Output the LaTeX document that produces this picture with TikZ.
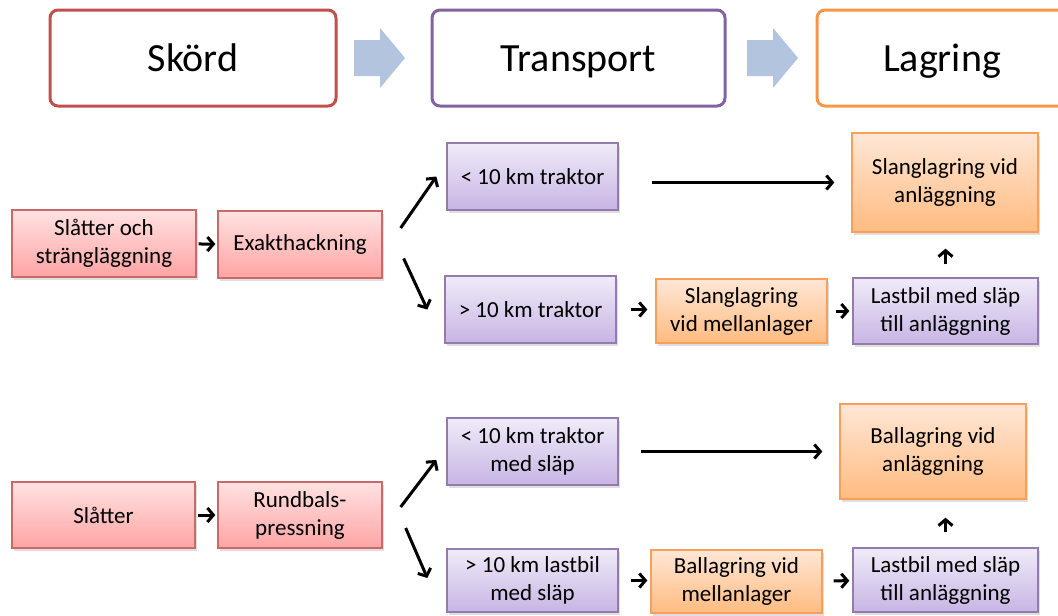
\documentclass[tikz,border=0pt]{standalone}
\usepackage{fontspec}
\setmainfont{Carlito}
\usetikzlibrary{arrows.meta,shadows,calc}
\definecolor{redline}{HTML}{C0504D}
\definecolor{purpleline}{HTML}{8064A2}
\definecolor{orangeline}{HTML}{F79646}
\definecolor{blockblue}{HTML}{B3C4DE}
\definecolor{redtop}{HTML}{FFE2E2}
\definecolor{redbottom}{HTML}{FFA4A4}
\definecolor{purpletop}{HTML}{F0EBF8}
\definecolor{purplebottom}{HTML}{C7B5E4}
\definecolor{orangetop}{HTML}{FFE7D6}
\definecolor{orangebottom}{HTML}{FFBB80}
\begin{document}
\begin{tikzpicture}[x=1pt, y=1pt,
	phase/.style={draw, line width=3pt, rounded corners=8pt, fill=white, minimum height=96pt,
		text height=26pt, text depth=0pt, font=\fontsize{40}{44}\selectfont},
	box/.style={draw, line width=1.3pt, minimum height=67pt, align=center, inner sep=2pt,
		font=\fontsize{23}{28}\selectfont,
		drop shadow={shadow xshift=1.5pt, shadow yshift=-2.5pt, opacity=0.25}},
	redbox/.style={box, draw=redline!85!white, top color=redtop, bottom color=redbottom},
	purplebox/.style={box, draw=purpleline!85!white, top color=purpletop, bottom color=purplebottom},
	orangebox/.style={box, draw=orangeline!90!white, top color=orangetop, bottom color=orangebottom},
	arr/.style={-{Straight Barb[length=6pt, width=14pt]}, line width=3pt}]
	\useasboundingbox (0,0) rectangle (1058,-616);
	% phases
	\node[phase, draw=redline, minimum width=286pt] (skord) at (193,-58) {Skörd};
	\node[phase, draw=purpleline, minimum width=293pt] (transport) at (578.5,-58) {Transport};
	\node[phase, draw=orangeline, minimum width=250pt] (lagring) at (942,-58) {Lagring};
	\fill[blockblue] (354,-40) -- (380,-40) -- (380,-28) -- (405,-58) -- (380,-88) -- (380,-76) -- (354,-76) -- cycle;
	\fill[blockblue] (747,-40) -- (773,-40) -- (773,-28) -- (798,-58) -- (773,-88) -- (773,-76) -- (747,-76) -- cycle;
	% exakthackning chain
	\node[redbox, minimum width=184pt] (slatteroch) at (104,-243.5) {Slåtter och\\strängläggning};
	\node[redbox, minimum width=164pt] (exakt) at (300,-244.5) {Exakthackning};
	\node[purplebox, minimum width=171pt] (nearhack) at (532.5,-176.5) {< 10 km traktor};
	\node[purplebox, minimum width=171pt] (farhack) at (530.5,-309.5) {> 10 km traktor};
	\node[orangebox, minimum width=171pt, minimum height=64pt] (slangmell) at (741.5,-311) {Slanglagring\\vid mellanlager};
	\node[purplebox, minimum width=185pt, minimum height=66pt] (lastslang) at (945.5,-311) {Lastbil med släp\\till anläggning};
	\node[orangebox, minimum width=186pt, minimum height=99pt] (slanganl) at (945,-182.5) {Slanglagring vid\\anläggning};
	\draw[arr, shorten <=2pt, shorten >=2pt] (slatteroch) -- (exakt);
	\draw[arr] ($(exakt.east)+(18,16.5)$) -- ($(nearhack.west)+(-10,0)$);
	\draw[arr] ($(exakt.east)+(21,-14)$) -- ($(farhack.west)+(-17,0)$);
	\draw[arr, shorten <=33pt, shorten >=17pt] (nearhack.east |- slanganl.west) -- (slanganl.west);
	\draw[arr, shorten <=14pt, shorten >=8pt] (farhack.east) -- (farhack.east -| slangmell.west);
	\draw[arr, shorten <=8pt, shorten >=3pt] (slangmell) -- (lastslang);
	\draw[arr, shorten <=13pt, shorten >=16pt] (lastslang.north) -- (lastslang.north |- slanganl.south);
	% rundbal chain
	\node[redbox, minimum width=183pt, minimum height=66pt] (slatter) at (103.5,-515) {Slåtter};
	\node[redbox, minimum width=164pt, minimum height=66pt] (rundbal) at (300,-515) {Rundbals-\\pressning};
	\node[purplebox, minimum width=171pt] (nearbal) at (532.5,-451.5) {< 10 km traktor\\med släp};
	\node[purplebox, minimum width=171pt, minimum height=63pt] (farbal) at (532.5,-580.5) {> 10 km lastbil\\med släp};
	\node[orangebox, minimum width=171pt, minimum height=63pt] (balmell) at (736.5,-581.5) {Ballagring vid\\mellanlager};
	\node[purplebox, minimum width=185pt, minimum height=64pt] (lastbal) at (945.5,-580) {Lastbil med släp\\till anläggning};
	\node[orangebox, minimum width=186pt, minimum height=95pt] (balanl) at (933,-451.5) {Ballagring vid\\anläggning};
	\draw[arr, shorten <=2pt, shorten >=2pt] (slatter) -- (rundbal);
	\draw[arr] ($(rundbal.east)+(18,8)$) -- ($(nearbal.west)+(-10,-8.5)$);
	\draw[arr] ($(rundbal.east)+(23,-13)$) -- ($(farbal.west)+(-19,2.5)$);
	\draw[arr, shorten <=22pt, shorten >=17pt] (nearbal.east) -- (balanl.west);
	\draw[arr, shorten <=12pt, shorten >=3pt] (farbal.east) -- (farbal.east -| balmell.west);
	\draw[arr, shorten <=11pt, shorten >=3pt] (balmell) -- (lastbal);
	\draw[arr, shorten <=15pt, shorten >=18pt] (lastbal.north) -- (lastbal.north |- balanl.south);
\end{tikzpicture}
\end{document}
